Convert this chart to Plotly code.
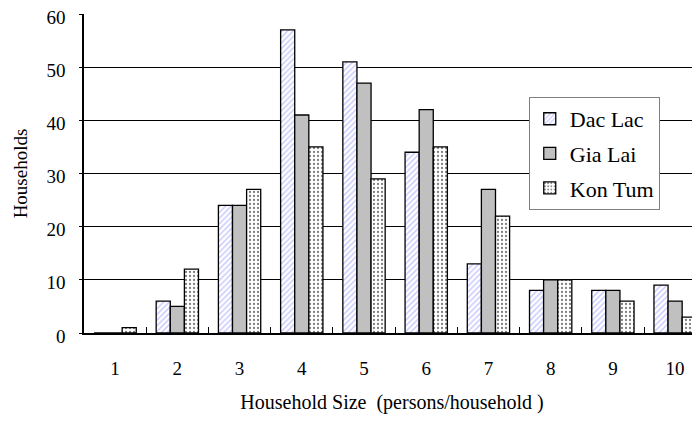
import plotly.graph_objects as go

sizes = [1, 2, 3, 4, 5, 6, 7, 8, 9, 10]
tick_labels = ["1", "2", "3", "4", "5", "6", "7", "8", "9", "10"]
dac_lac = [0, 6, 24, 57, 51, 34, 13, 8, 8, 9]
gia_lai = [0, 5, 24, 41, 47, 42, 27, 10, 8, 6]
kon_tum = [1, 12, 27, 35, 29, 35, 22, 10, 6, 3]

FONT = "Times New Roman, Liberation Serif, serif"

fig = go.Figure()
fig.add_trace(go.Bar(
    x=sizes, y=dac_lac, name="Dac Lac", legendgroup="a",
    marker=dict(color="white", line=dict(color="black", width=1.3),
                pattern=dict(shape="/", fgcolor="#8c8cff", bgcolor="white",
                             size=4, solidity=0.35, fillmode="overlay")),
))
fig.add_trace(go.Bar(
    x=sizes, y=gia_lai, name="Gia Lai", legendgroup="b",
    marker=dict(color="#c0c0c0", line=dict(color="black", width=1.3)),
))
fig.add_trace(go.Bar(
    x=sizes, y=kon_tum, name="Kon Tum", legendgroup="c",
    marker=dict(color="white", line=dict(color="black", width=1.3),
                pattern=dict(shape=".", fgcolor="black", bgcolor="white",
                             size=4, solidity=0.25, fillmode="overlay")),
))

fig.update_layout(
    width=700, height=424,
    margin=dict(l=76, r=8, t=6, b=99),
    paper_bgcolor="white", plot_bgcolor="white",
    barmode="group", bargap=0.32, bargroupgap=0,
    font=dict(family=FONT, size=19, color="black"),
    legend=dict(
        x=0.722, y=0.740, xanchor="left", yanchor="top",
        bgcolor="white", bordercolor="#808080", borderwidth=1,
        font=dict(family=FONT, size=22, color="black"),
        tracegroupgap=3, itemwidth=30,
    ),
    showlegend=True,
)

fig.update_xaxes(
    range=[0.5, 10.4], tickmode="array", tickvals=sizes, ticktext=tick_labels,
    tickfont=dict(family=FONT, size=19, color="black"),
    ticks="", showgrid=False, zeroline=False,
    showline=True, linecolor="black", linewidth=1.5,
    ticklabelstandoff=17, ticklabeloverflow="allow",
    minor=dict(tickvals=[1.5, 2.5, 3.5, 4.5, 5.5, 6.5, 7.5, 8.5, 9.5],
               ticks="inside", ticklen=6, tickcolor="black", tickwidth=1, showgrid=False),
    title=dict(text="Household Size  (persons/household )", standoff=17,
               font=dict(family=FONT, size=20)),
    automargin=False,
)
fig.update_yaxes(
    range=[0, 60], dtick=10, tickmode="linear",
    tickfont=dict(family=FONT, size=19, color="black"),
    showgrid=True, gridcolor="black", gridwidth=1,
    zeroline=False, showline=True, linecolor="black", linewidth=1.5,
    ticks="outside", ticklen=3, tickcolor="black",
    ticklabelstandoff=10, ticklabelshift=3, ticklabeloverflow="allow",
    title=dict(text="Households", standoff=14, font=dict(family=FONT, size=19)),
    automargin=False,
)

fig.write_html("out.html")
